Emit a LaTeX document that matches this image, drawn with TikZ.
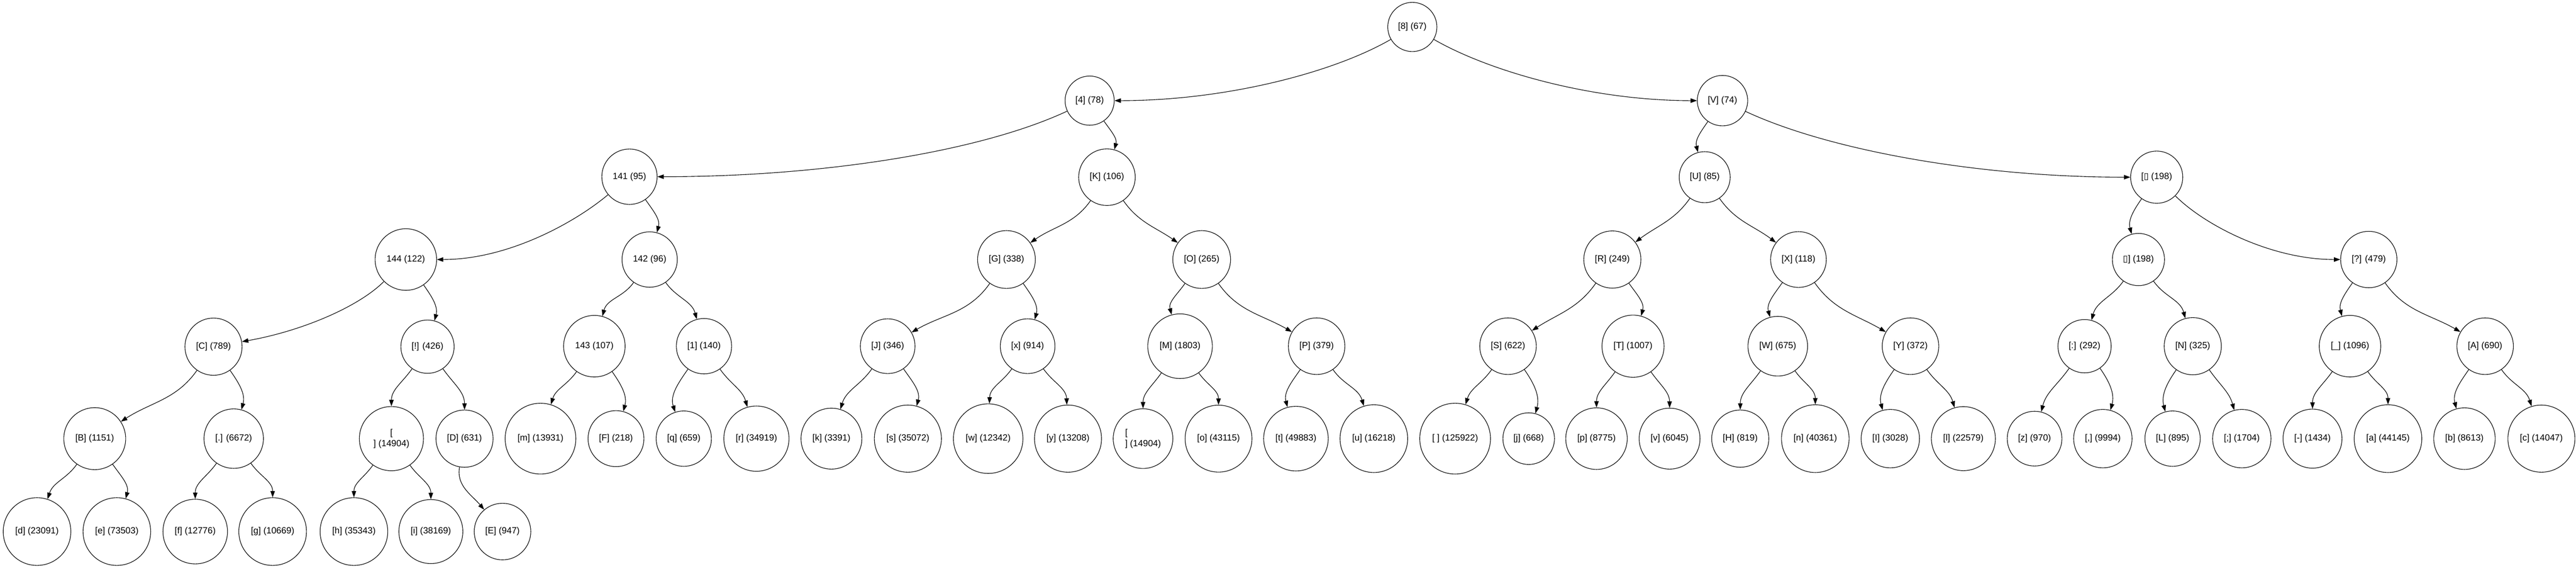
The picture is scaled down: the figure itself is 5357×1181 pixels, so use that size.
\documentclass[tikz,border=0pt]{standalone}
\usepackage{fontspec}
\setmainfont{Liberation Sans}
\newfontfamily\dejavu{DejaVu Sans}
\usetikzlibrary{arrows.meta}

\newlength{\labw}
\newlength{\labd}
\newsavebox{\labbox}
\newcommand{\labfont}{\fontsize{14}{17}\selectfont}
\newcommand{\tofu}{{\dejavu ▯}}
% circle sized from the width of its label
\newcommand{\huff}[3]{%
  \begin{pgfinterruptpicture}\global\setbox\labbox=\hbox{\labfont #3}\end{pgfinterruptpicture}%
  \labw=\wd\labbox
  \labd=1.237\labw
  \advance\labd by 21.75pt
  \node[hnode, minimum size=\the\labd] (#1) at (#2) {#3};}

\tikzset{
  hnode/.style={draw, circle, inner sep=0pt, font=\labfont},
  lk/.style={out=-125, in=#1},
  rk/.style={out=-55, in=#1},
  far/.style 2 args={out=#1, in=#2, out looseness=0.6},
}

\begin{document}
\begin{tikzpicture}[x=0.75pt, y=0.75pt, ->, >={Triangle[length=10pt,width=7pt]}, line width=0.9pt]
\useasboundingbox (0,0) rectangle (5357,-1181);

% ranks 0 to 3
\huff{s8}{2937,-56}{[8] (67)}
\huff{s4}{2266,-209}{[4] (78)}
\huff{sV}{3582,-209}{[V] (74)}
\huff{n141}{1309,-367}{141 (95)}
\huff{sK}{2302,-368}{[K] (106)}
\huff{sU}{3545,-368}{[U] (85)}
\huff{sbox1}{4485,-368}{[\tofu{} (198)}
\huff{n144}{844,-539}{144 (122)}
\huff{n142}{1351,-539}{142 (96)}
\huff{sG}{2093,-539}{[G] (338)}
\huff{sO}{2499,-539}{[O] (265)}
\huff{sR}{3353,-539}{[R] (249)}
\huff{sX}{3740,-539}{[X] (118)}
\huff{sbox2}{4447,-539}{\tofu] (198)}
\huff{squest}{4926,-539}{[?] (479)}

% rank 4
\huff{sC}{444,-720}{[C] (789)}
\huff{sbang}{889,-720}{[!] (426)}
\huff{n143}{1236,-719}{143 (107)}
\huff{s1}{1464,-719}{[1] (140)}
\huff{sJ}{1846,-719}{[J] (346)}
\huff{sx}{2137,-719}{[x] (914)}
\huff{sM}{2454,-719}{[M] (1803)}
\huff{sP}{2738,-719}{[P] (379)}
\huff{sS}{3136,-719}{[S] (622)}
\huff{sT}{3396,-719}{[T] (1007)}
\huff{sW}{3697,-719}{[W] (675)}
\huff{sY}{3973,-719}{[Y] (372)}
\huff{scolon}{4335,-719}{[:] (292)}
\huff{sN}{4560,-719}{[N] (325)}
\huff{sus}{4887,-719}{[\_] (1096)}
\huff{sA}{5168,-719}{[A] (690)}

% rank 5
\huff{sB}{197,-911}{[B] (1151)}
\huff{sdot}{486,-911}{[.] (6672)}
\node[hnode, minimum size=100pt, align=center] (snl1) at (814,-911) {[\\] (14904)};
\huff{sD}{966,-911}{[D] (631)}
\huff{sm}{1124,-911}{[m] (13931)}
\huff{sF}{1281,-911}{[F] (218)}
\huff{sq}{1422,-911}{[q] (659)}
\huff{sr}{1573,-911}{[r] (34919)}
\huff{sk}{1729,-911}{[k] (3391)}
\huff{ss}{1888,-911}{[s] (35072)}
\huff{sw}{2055,-911}{[w] (12342)}
\huff{sy}{2221,-911}{[y] (13208)}
\node[hnode, minimum size=93pt, align=left] (snl2) at (2377,-911) {[\\] (14904)};
\huff{so}{2534,-911}{[o] (43115)}
\huff{st}{2695,-911}{[t] (49883)}
\huff{su}{2857,-911}{[u] (16218)}
\huff{sspace}{3026,-911}{[ ] (125922)}
\huff{sj}{3179,-911}{[j] (668)}
\huff{sp}{3320,-911}{[p] (8775)}
\huff{sv}{3472,-911}{[v] (6045)}
\huff{sH}{3619,-911}{[H] (819)}
\huff{sn}{3775,-911}{[n] (40361)}
\huff{sI}{3931,-911}{[I] (3028)}
\huff{sl}{4083,-911}{[l] (22579)}
\huff{sz}{4231,-911}{[z] (970)}
\huff{scomma}{4373,-911}{[,] (9994)}
\huff{sL}{4518,-911}{[L] (895)}
\huff{ssemi}{4662,-911}{[;] (1704)}
\huff{sminus}{4809,-911}{[-] (1434)}
\huff{sa}{4966,-911}{[a] (44145)}
\huff{sb}{5125,-911}{[b] (8613)}
\huff{sc}{5285,-911}{[c] (14047)}

% rank 6
\huff{sd}{77,-1104}{[d] (23091)}
\huff{se}{243,-1104}{[e] (73503)}
\huff{sf}{406,-1104}{[f] (12776)}
\huff{sg}{567,-1104}{[g] (10669)}
\huff{sh}{736,-1104}{[h] (35343)}
\huff{si}{896,-1104}{[i] (38169)}
\huff{sE}{1045,-1104}{[E] (947)}

% edges
\draw (s8) to[far={-150}{0}] (s4);
\draw (s8) to[far={-30}{180}] (sV);
\draw (s4) to[far={-155}{0}] (n141);
\draw (s4) to[rk=75] (sK);
\draw (sV) to[lk=105] (sU);
\draw (sV) to[far={-25}{180}] (sbox1);
\draw (n141) to[far={-140}{0}] (n144);
\draw (n141) to[rk=75] (n142);
\draw (sK) to[lk=35] (sG);
\draw (sK) to[rk=145] (sO);
\draw (sU) to[lk=37] (sR);
\draw (sU) to[rk=143] (sX);
\draw (sbox1) to[lk=105] (sbox2);
\draw (sbox1) to[far={-45}{180}] (squest);
\draw (n144) to[far={-135}{10}] (sC);
\draw (n144) to[rk=75] (sbang);
\draw (n142) to[lk=75] (n143);
\draw (n142) to[rk=105] (s1);
\draw (sG) to[lk=30] (sJ);
\draw (sG) to[rk=75] (sx);
\draw (sO) to[lk=105] (sM);
\draw (sO) to[rk=150] (sP);
\draw (sR) to[lk=33] (sS);
\draw (sR) to[rk=75] (sT);
\draw (sX) to[lk=105] (sW);
\draw (sX) to[rk=150] (sY);
\draw (sbox2) to[lk=75] (scolon);
\draw (sbox2) to[rk=105] (sN);
\draw (squest) to[lk=105] (sus);
\draw (squest) to[rk=150] (sA);

\draw (sC) to[lk=33] (sB);
\draw (sC) to[rk=75] (sdot);
\draw (sbang) to[lk=90] (snl1);
\draw (sbang) to[rk=90] (sD);
\draw (n143) to[lk=73] (sm);
\draw (n143) to[rk=75] (sF);
\draw (s1) to[lk=108] (sq);
\draw (s1) to[rk=106] (sr);
\draw (sJ) to[lk=73] (sk);
\draw (sJ) to[rk=75] (ss);
\draw (sx) to[lk=88] (sw);
\draw (sx) to[rk=92] (sy);
\draw (sM) to[lk=90] (snl2);
\draw (sM) to[rk=90] (so);
\draw (sP) to[lk=105] (st);
\draw (sP) to[rk=107] (su);
\draw (sS) to[lk=73] (sspace);
\draw (sS) to[rk=75] (sj);
\draw (sT) to[lk=90] (sp);
\draw (sT) to[rk=90] (sv);
\draw (sW) to[lk=90] (sH);
\draw (sW) to[rk=90] (sn);
\draw (sY) to[lk=105] (sI);
\draw (sY) to[rk=106] (sl);
\draw (scolon) to[lk=76] (sz);
\draw (scolon) to[rk=75] (scomma);
\draw (sN) to[lk=105] (sL);
\draw (sN) to[rk=105] (ssemi);
\draw (sus) to[lk=90] (sminus);
\draw (sus) to[rk=90] (sa);
\draw (sA) to[lk=105] (sb);
\draw (sA) to[rk=107] (sc);

\draw (sB) to[lk=72] (sd);
\draw (sB) to[rk=75] (se);
\draw (sdot) to[lk=90] (sf);
\draw (sdot) to[rk=90] (sg);
\draw (snl1) to[lk=90] (sh);
\draw (snl1) to[rk=90] (si);
\draw (sD) to[out=-100, in=130] (sE);
\end{tikzpicture}
\end{document}
